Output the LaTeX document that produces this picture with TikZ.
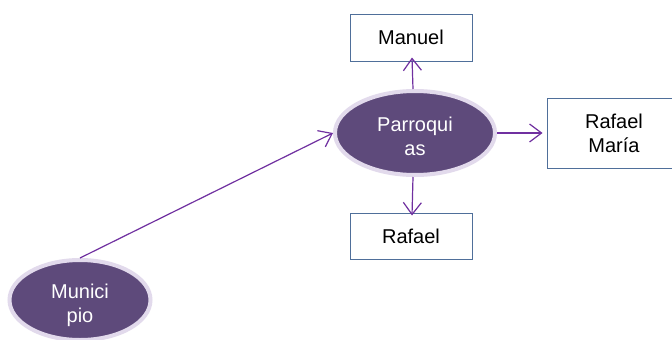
\documentclass[tikz,border=0pt]{standalone}
\usepackage{fontspec}
\setmainfont{Liberation Sans}
\usetikzlibrary{shapes.geometric,arrows.meta}
\definecolor{ellfill}{HTML}{5E4A7B}
\definecolor{ellring}{HTML}{E2DAEC}
\definecolor{arr}{HTML}{7030A0}
\definecolor{boxline}{HTML}{4F6F9A}
\tikzset{
  oval/.style={ellipse, fill=ellfill, draw=ellring, line width=4pt, inner sep=0pt},
  ovaltext/.style={text=white, align=center, font=\fontsize{20}{24}\selectfont, inner sep=0pt},
  namebox/.style={rectangle, draw=boxline, line width=1pt, fill=white,
    align=center, font=\fontsize{20}{24}\selectfont, inner sep=0pt},
  conn/.style={draw=arr, line width=1.2pt, -{Straight Barb[length=12pt,width=18pt,line width=1.2pt]}}
}
\begin{document}
\begin{tikzpicture}[x=1pt,y=-1pt]
\useasboundingbox (0,0) rectangle (672,340);
\clip (0,0) rectangle (672,340);
\fill[white] (0,0) rectangle (672,340);
\node[oval, minimum width=160pt, minimum height=84pt,
  label={[ovaltext, yshift=-3pt]center:Parroqui\\as}] (p) at (415,133) {};
\node[oval, minimum width=141pt, minimum height=80pt,
  label={[ovaltext, yshift=-5pt]center:Munici\\pio}] (m) at (80,300) {};
\node[namebox, minimum width=122pt, minimum height=47pt] (man) at (411,37.5) {Manuel};
\node[namebox, minimum width=122pt, minimum height=46pt] (raf) at (411,236) {Rafael};
\node[namebox, minimum width=134pt, minimum height=70pt] (rm) at (614,133) {Rafael\\María};
\draw[conn] (m.north) -- (p.west);
\draw[conn] ([xshift=-2pt]p.north) -- ([xshift=1pt,yshift=4pt]man.south);
\draw[conn] ([xshift=-2pt]p.south) -- ([xshift=1pt,yshift=-3pt]raf.north);
\draw[conn] (p.east) -- ([xshift=-4pt]rm.west);
\end{tikzpicture}
\end{document}
